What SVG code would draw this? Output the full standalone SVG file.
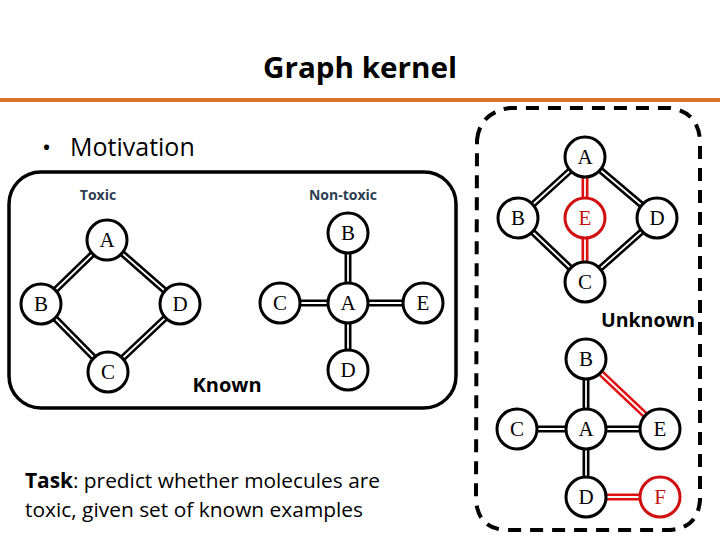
<svg xmlns="http://www.w3.org/2000/svg" width="720" height="540" viewBox="0 0 720 540">
<style>
.nd{fill:#fff;stroke:#000;stroke-width:3}
.ndr{fill:#fff;stroke:#d01010;stroke-width:3}
.lb{font-family:"Liberation Serif",serif;font-size:21px;text-anchor:middle;fill:#000}
.lbr{font-family:"Liberation Serif",serif;font-size:21px;text-anchor:middle;fill:#c01010}
.eo{stroke:#000;stroke-width:7}
.ei{stroke:#fff;stroke-width:1.8}
.ro{stroke:#e01010;stroke-width:7}
.sans{font-family:"Open Sans","Liberation Sans",sans-serif}
</style>
<rect width="720" height="540" fill="#fff"/>
<text x="360" y="78" class="sans" font-size="28" font-weight="bold" text-anchor="middle" textLength="194" lengthAdjust="spacingAndGlyphs">Graph kernel</text>
<rect x="0" y="98" width="720" height="4" fill="#d8732a"/>
<text x="42" y="156" class="sans" font-size="24">•</text>
<text x="70" y="156" class="sans" font-size="25">Motivation</text>
<rect x="9" y="172" width="447" height="236" rx="32" fill="none" stroke="#000" stroke-width="3.5"/>
<path d="M 477 140 Q 480 112 510 108 L 670 108 Q 698 112 700 140 L 700 500 Q 698 528 670 530 L 505 530 Q 478 528 476 500 Z" fill="none" stroke="#000" stroke-width="4" stroke-dasharray="13 9"/>
<text x="98" y="200" class="sans" font-size="14" font-weight="bold" fill="#2d3e50" text-anchor="middle">Toxic</text>
<text x="343" y="200" class="sans" font-size="14" font-weight="bold" fill="#2d3e50" text-anchor="middle">Non-toxic</text>
<text x="227" y="392" class="sans" font-size="20" font-weight="bold" text-anchor="middle">Known</text>
<text x="695" y="327" class="sans" font-size="19.5" font-weight="bold" text-anchor="end">Unknown</text>
<g id="connectors">
<g class="eo">
<line x1="107" y1="240" x2="41" y2="304"/><line x1="107" y1="240" x2="180" y2="304"/>
<line x1="41" y1="304" x2="108" y2="372"/><line x1="180" y1="304" x2="108" y2="372"/>
<line x1="348" y1="233" x2="348" y2="303"/><line x1="280" y1="303" x2="423" y2="303"/><line x1="348" y1="303" x2="348" y2="370"/>
<line x1="585" y1="157" x2="518" y2="218"/><line x1="585" y1="157" x2="657" y2="218"/>
<line x1="518" y1="218" x2="585" y2="282"/><line x1="657" y1="218" x2="585" y2="282"/>
<line x1="586" y1="359" x2="586" y2="497"/><line x1="517" y1="429" x2="660" y2="429"/>
</g>
<g class="ro">
<line x1="585" y1="157" x2="585" y2="282"/>
<line x1="586" y1="359" x2="660" y2="429"/>
<line x1="586" y1="497" x2="660" y2="497"/>
</g>
<g class="ei">
<line x1="107" y1="240" x2="41" y2="304"/><line x1="107" y1="240" x2="180" y2="304"/>
<line x1="41" y1="304" x2="108" y2="372"/><line x1="180" y1="304" x2="108" y2="372"/>
<line x1="348" y1="233" x2="348" y2="303"/><line x1="280" y1="303" x2="423" y2="303"/><line x1="348" y1="303" x2="348" y2="370"/>
<line x1="585" y1="157" x2="518" y2="218"/><line x1="585" y1="157" x2="657" y2="218"/>
<line x1="518" y1="218" x2="585" y2="282"/><line x1="657" y1="218" x2="585" y2="282"/>
<line x1="586" y1="359" x2="586" y2="497"/><line x1="517" y1="429" x2="660" y2="429"/>
<line x1="585" y1="157" x2="585" y2="282"/>
<line x1="586" y1="359" x2="660" y2="429"/>
<line x1="586" y1="497" x2="660" y2="497"/>
</g>
</g>
<g id="t-A"><circle cx="107" cy="240" r="20" class="nd"/><text x="107" y="247" class="lb">A</text></g>
<g id="t-B"><circle cx="41" cy="304" r="20" class="nd"/><text x="41" y="311" class="lb">B</text></g>
<g id="t-D"><circle cx="180" cy="304" r="20" class="nd"/><text x="180" y="311" class="lb">D</text></g>
<g id="t-C"><circle cx="108" cy="372" r="20" class="nd"/><text x="108" y="379" class="lb">C</text></g>
<g id="n-B"><circle cx="348" cy="233" r="20" class="nd"/><text x="348" y="240" class="lb">B</text></g>
<g id="n-A"><circle cx="348" cy="303" r="20" class="nd"/><text x="348" y="310" class="lb">A</text></g>
<g id="n-C"><circle cx="280" cy="303" r="20" class="nd"/><text x="280" y="310" class="lb">C</text></g>
<g id="n-E"><circle cx="423" cy="303" r="20" class="nd"/><text x="423" y="310" class="lb">E</text></g>
<g id="n-D"><circle cx="348" cy="370" r="20" class="nd"/><text x="348" y="377" class="lb">D</text></g>
<g id="u1-A"><circle cx="585" cy="157" r="20" class="nd"/><text x="585" y="164" class="lb">A</text></g>
<g id="u1-B"><circle cx="518" cy="218" r="20" class="nd"/><text x="518" y="225" class="lb">B</text></g>
<g id="u1-E"><circle cx="585" cy="218" r="20" class="ndr"/><text x="585" y="225" class="lbr">E</text></g>
<g id="u1-D"><circle cx="657" cy="218" r="20" class="nd"/><text x="657" y="225" class="lb">D</text></g>
<g id="u1-C"><circle cx="585" cy="282" r="20" class="nd"/><text x="585" y="289" class="lb">C</text></g>
<g id="u2-B"><circle cx="586" cy="359" r="20" class="nd"/><text x="586" y="366" class="lb">B</text></g>
<g id="u2-A"><circle cx="586" cy="429" r="20" class="nd"/><text x="586" y="436" class="lb">A</text></g>
<g id="u2-C"><circle cx="517" cy="429" r="20" class="nd"/><text x="517" y="436" class="lb">C</text></g>
<g id="u2-E"><circle cx="660" cy="429" r="20" class="nd"/><text x="660" y="436" class="lb">E</text></g>
<g id="u2-D"><circle cx="586" cy="497" r="20" class="nd"/><text x="586" y="504" class="lb">D</text></g>
<g id="u2-F"><circle cx="660" cy="497" r="20" class="ndr"/><text x="660" y="504" class="lbr">F</text></g>
<text x="25" y="488" class="sans" font-size="20.5" textLength="355" lengthAdjust="spacingAndGlyphs"><tspan font-weight="bold">Task</tspan>: predict whether molecules are</text>
<text x="25" y="517" class="sans" font-size="20.5" textLength="338" lengthAdjust="spacingAndGlyphs">toxic, given set of known examples</text>
</svg>
